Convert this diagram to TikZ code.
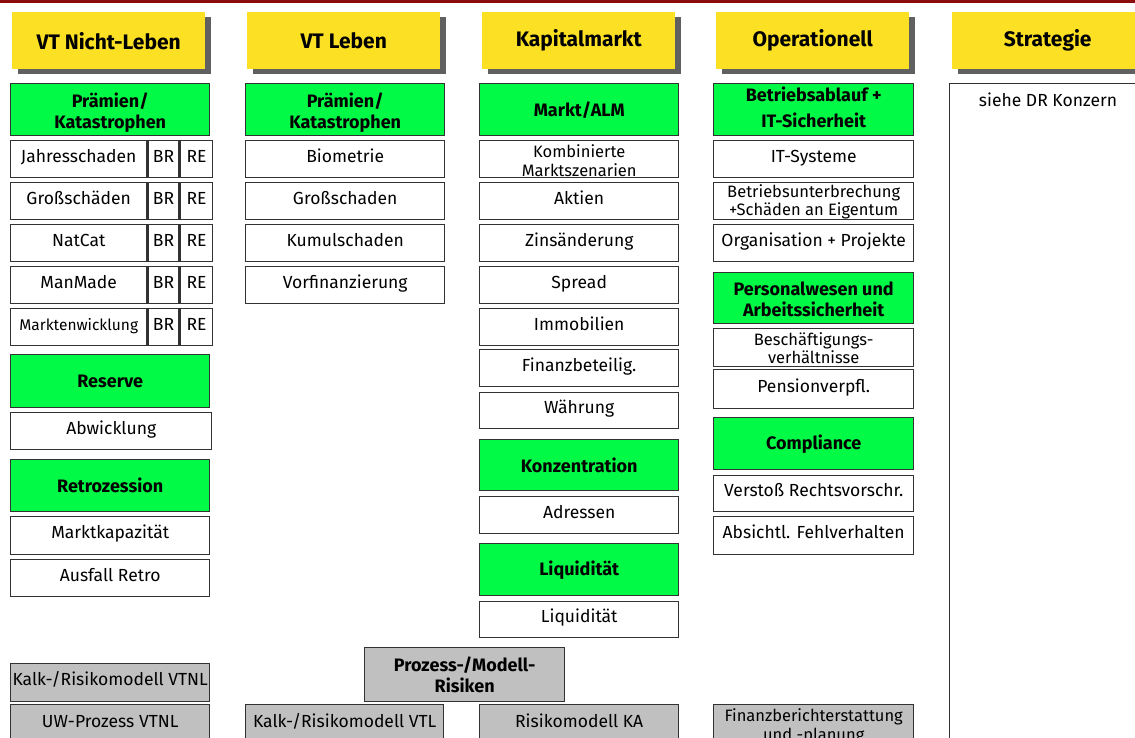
\documentclass[tikz,border=0pt]{standalone}
\usepackage{fontspec}
\setmainfont{Fira Sans}
\usepackage{tikz}
\usetikzlibrary{shadows}

\definecolor{topred}{RGB}{140,12,12}
\definecolor{hdyellow}{RGB}{252,224,36}
\definecolor{hdshadow}{RGB}{96,96,96}
\definecolor{grpgreen}{RGB}{0,250,70}
\definecolor{procgray}{RGB}{192,192,192}
\definecolor{edge}{RGB}{50,50,50}

\begin{document}
\begin{tikzpicture}[x=1pt,y=-1pt]
        \tikzstyle{every node}=[inner sep=1pt, align=center];
        \tikzstyle{hdbox}=[anchor=north west, fill=hdyellow, minimum width=193pt, minimum height=57pt, font=\bfseries\fontsize{21}{25}\selectfont, drop shadow={shadow xshift=6pt, shadow yshift=-5pt, fill=hdshadow, opacity=1}];
        \tikzstyle{frame}=[anchor=north west, draw=edge, line width=1.4pt, minimum width=199pt];
        \tikzstyle{grpbox}=[frame, fill=grpgreen, minimum height=52pt, font=\bfseries\fontsize{18}{21}\selectfont];
        \tikzstyle{grp2}=[grpbox, text height=37pt, text depth=0pt];
        \tikzstyle{itembox}=[frame, fill=white, minimum height=37pt, text height=13pt, text depth=7pt, font=\fontsize{17.5}{20}\selectfont];
        \tikzstyle{twobox}=[frame, fill=white, minimum height=37pt, text height=32pt, text depth=0pt, font=\fontsize{16.5}{18.5}\selectfont];
        \tikzstyle{procbox}=[itembox, fill=procgray];
        \tikzstyle{proclow}=[procbox, minimum height=46pt, text depth=13pt];

        \useasboundingbox (0,0) rectangle (1135,738);
        \fill[topred] (0,0) rectangle (1135,3);

        \node[hdbox] (vtnl) at (12,12) {VT Nicht-Leben};
        \node[hdbox] (vtl) at (247,12) {VT Leben};
        \node[hdbox] (kapm) at (482,12) {Kapitalmarkt};
        \node[hdbox] (oper) at (716,12) {Operationell};
        \node[hdbox, minimum width=191pt] (strat) at (952,12) {Strategie};

        \node[grp2] (praemnl) at (10,83) {Prämien/\\Katastrophen};
        \node[itembox, minimum width=136pt] (jahres) at (10,140) {Jahresschaden};
        \node[itembox, minimum width=31pt] (jahresbr) at (jahres.north east) {BR};
        \node[itembox, minimum width=32pt] (jahresre) at (jahresbr.north east) {RE};
        \node[itembox, minimum width=136pt] (gross) at (10,182) {Großschäden};
        \node[itembox, minimum width=31pt] (grossbr) at (gross.north east) {BR};
        \node[itembox, minimum width=32pt] (grossre) at (grossbr.north east) {RE};
        \node[itembox, minimum width=136pt] (natcat) at (10,224) {NatCat};
        \node[itembox, minimum width=31pt] (natcatbr) at (natcat.north east) {BR};
        \node[itembox, minimum width=32pt] (natcatre) at (natcatbr.north east) {RE};
        \node[itembox, minimum width=136pt] (manmade) at (10,266) {ManMade};
        \node[itembox, minimum width=31pt] (manmadebr) at (manmade.north east) {BR};
        \node[itembox, minimum width=32pt] (manmadere) at (manmadebr.north east) {RE};
        \node[itembox, minimum width=136pt, font=\fontsize{15.5}{18}\selectfont] (marktent) at (10,308) {Marktenwicklung};
        \node[itembox, minimum width=31pt] (marktentbr) at (marktent.north east) {BR};
        \node[itembox, minimum width=32pt] (marktentre) at (marktentbr.north east) {RE};
        \node[grpbox, minimum height=53pt] (reserve) at (10,354) {Reserve};
        \node[itembox, minimum width=201pt] (abwickl) at (10,412) {Abwicklung};
        \node[grpbox] (retro) at (10,459) {Retrozession};
        \node[itembox, minimum height=38pt] (marktkap) at (10,516) {Marktkapazität};
        \node[itembox] (ausfall) at (10,559) {Ausfall Retro};

        \node[grp2] (praeml) at (245,83) {Prämien/\\Katastrophen};
        \node[itembox] (biometrie) at (245,140) {Biometrie};
        \node[itembox] (grossl) at (245,182) {Großschaden};
        \node[itembox] (kumul) at (245,224) {Kumulschaden};
        \node[itembox] (vorfin) at (245,266) {Vorfinanzierung};

        \node[grpbox, text height=13pt, text depth=0pt] (alm) at (479,83) {Markt/ALM};
        \node[twobox, text height=34pt] (kombi) at (479,140) {Kombinierte\\Marktszenarien};
        \node[itembox] (aktien) at (479,182) {Aktien};
        \node[itembox] (zins) at (479,224) {Zinsänderung};
        \node[itembox] (spread) at (479,266) {Spread};
        \node[itembox] (immo) at (479,308) {Immobilien};
        \node[itembox] (finbet) at (479,349) {Finanzbeteilig.};
        \node[itembox, minimum height=36pt] (waehrung) at (479,392) {Währung};
        \node[grpbox, minimum height=51pt] (konz) at (479,439) {Konzentration};
        \node[itembox] (adressen) at (479,496) {Adressen};
        \node[grpbox] (liquigrp) at (479,543) {Liquidität};
        \node[itembox, minimum height=36pt] (liqui) at (479,601) {Liquidität};

        \node[grp2, minimum width=200pt, text height=36pt] (betrieb) at (713,83) {Betriebsablauf +\\[5pt]IT-Sicherheit};
        \node[itembox, minimum width=200pt] (itsys) at (713,140) {IT-Systeme};
        \node[twobox, minimum width=200pt, text height=29pt] (unterbr) at (713,182) {Betriebsunterbrechung\\+Schäden an Eigentum};
        \node[itembox, minimum width=200pt] (orga) at (713,224) {Organisation + Projekte};
        \node[grp2, minimum width=200pt, minimum height=51pt] (personal) at (713,272) {Personalwesen und\\Arbeitssicherheit};
        \node[twobox, minimum width=200pt, minimum height=38pt] (beschaeft) at (713,328) {Beschäftigungs-\\verhältnisse};
        \node[itembox, minimum width=200pt, minimum height=39pt] (pension) at (713,369) {Pensionverpfl.};
        \node[grpbox, minimum width=200pt] (compl) at (713,417) {Compliance};
        \node[itembox, minimum width=200pt, minimum height=36pt] (verstoss) at (713,475) {Verstoß Rechtsvorschr.};
        \node[itembox, minimum width=200pt, minimum height=38pt] (absicht) at (713,516) {Absichtl. Fehlverhalten};

        \node[frame, fill=white, minimum width=220pt, minimum height=700pt] (stratbox) at (949,83) {};
        \node[font=\fontsize{17.5}{20}\selectfont] (siehe) at (1048,100) {siehe DR Konzern};

        \node[procbox, font=\bfseries\fontsize{18}{21}\selectfont, minimum width=200pt, minimum height=54pt, text height=36pt, text depth=0pt] (prozess) at (364,647) {Prozess-/Modell-\\Risiken};
        \node[procbox, minimum height=38pt] (kalknl) at (10,663) {Kalk-/Risikomodell VTNL};
        \node[proclow] (uwnl) at (10,704) {UW-Prozess VTNL};
        \node[proclow, minimum width=198pt] (kalkl) at (245,704) {Kalk-/Risikomodell VTL};
        \node[proclow] (risika) at (479,704) {Risikomodell KA};
        \node[proclow, minimum width=200pt, font=\fontsize{16.5}{18.5}\selectfont, text height=25pt, text depth=0pt] (finanz) at (713,704) {Finanzberichterstattung\\und -planung};
\end{tikzpicture}
\end{document}
